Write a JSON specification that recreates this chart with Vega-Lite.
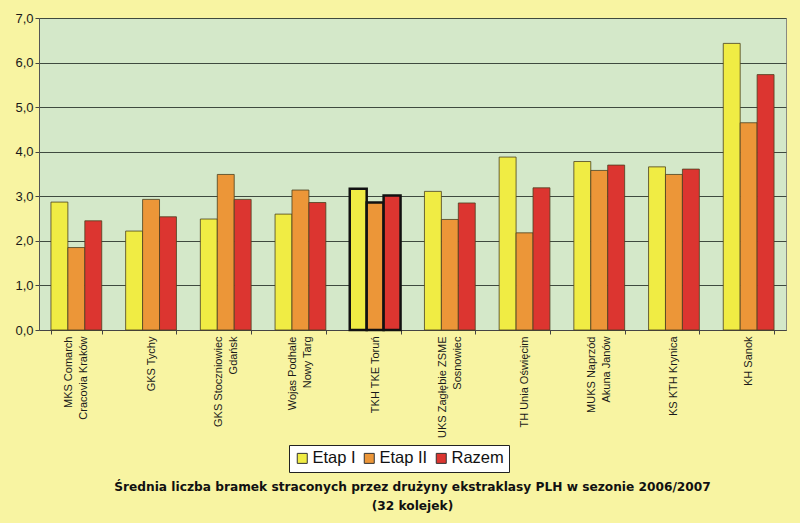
{
  "$schema": "https://vega.github.io/schema/vega-lite/v6.json",
  "width": 747,
  "height": 312,
  "autosize": {"type": "none"},
  "padding": {"left": 39, "top": 18, "right": 14, "bottom": 193},
  "background": "#f8f4a2",
  "data": {
    "values": [
      {"team": "MKS Comarch\nCracovia Kraków", "etap": "Etap I", "value": 2.87},
      {"team": "MKS Comarch\nCracovia Kraków", "etap": "Etap II", "value": 1.85},
      {"team": "MKS Comarch\nCracovia Kraków", "etap": "Razem", "value": 2.45},
      {"team": "GKS Tychy", "etap": "Etap I", "value": 2.22},
      {"team": "GKS Tychy", "etap": "Etap II", "value": 2.93},
      {"team": "GKS Tychy", "etap": "Razem", "value": 2.54},
      {"team": "GKS Stoczniowiec\nGdańsk", "etap": "Etap I", "value": 2.49},
      {"team": "GKS Stoczniowiec\nGdańsk", "etap": "Etap II", "value": 3.49},
      {"team": "GKS Stoczniowiec\nGdańsk", "etap": "Razem", "value": 2.93},
      {"team": "Wojas Podhale\nNowy Targ", "etap": "Etap I", "value": 2.60},
      {"team": "Wojas Podhale\nNowy Targ", "etap": "Etap II", "value": 3.14},
      {"team": "Wojas Podhale\nNowy Targ", "etap": "Razem", "value": 2.86},
      {"team": "TKH TKE Toruń", "etap": "Etap I", "value": 3.17},
      {"team": "TKH TKE Toruń", "etap": "Etap II", "value": 2.86},
      {"team": "TKH TKE Toruń", "etap": "Razem", "value": 3.02},
      {"team": "UKS Zagłębie ZSME\nSosnowiec", "etap": "Etap I", "value": 3.11},
      {"team": "UKS Zagłębie ZSME\nSosnowiec", "etap": "Etap II", "value": 2.48},
      {"team": "UKS Zagłębie ZSME\nSosnowiec", "etap": "Razem", "value": 2.85},
      {"team": "TH Unia Oświęcim", "etap": "Etap I", "value": 3.88},
      {"team": "TH Unia Oświęcim", "etap": "Etap II", "value": 2.18},
      {"team": "TH Unia Oświęcim", "etap": "Razem", "value": 3.19},
      {"team": "MUKS Naprzód\nAkuna Janów", "etap": "Etap I", "value": 3.78},
      {"team": "MUKS Naprzód\nAkuna Janów", "etap": "Etap II", "value": 3.58},
      {"team": "MUKS Naprzód\nAkuna Janów", "etap": "Razem", "value": 3.70},
      {"team": "KS KTH Krynica", "etap": "Etap I", "value": 3.66},
      {"team": "KS KTH Krynica", "etap": "Etap II", "value": 3.49},
      {"team": "KS KTH Krynica", "etap": "Razem", "value": 3.61},
      {"team": "KH Sanok", "etap": "Etap I", "value": 6.43},
      {"team": "KH Sanok", "etap": "Etap II", "value": 4.65},
      {"team": "KH Sanok", "etap": "Razem", "value": 5.73}
    ]
  },
  "mark": {"type": "bar"},
  "encoding": {
    "x": {
      "field": "team",
      "type": "nominal",
      "sort": null,
      "scale": {"paddingInner": 0.32, "paddingOuter": 0.16},
      "axis": {
        "title": null,
        "labelAngle": -90,
        "labelExpr": "split(datum.label, '\\n')",
        "labelFont": "Liberation Sans",
        "labelFontSize": 11,
        "labelColor": "#1a1a1a",
        "labelLineHeight": 15,
        "labelPadding": 2,
        "labelLimit": 300,
        "labelOffset": {"condition": {"test": "indexof(datum.label, '\\n') >= 0", "value": -7.5}, "value": 0},
        "tickBand": "extent",
        "tickSize": 4,
        "tickColor": "#444444",
        "domainColor": "#444444",
        "grid": false
      }
    },
    "xOffset": {"field": "etap", "type": "nominal", "scale": {"padding": 0}},
    "y": {
      "field": "value",
      "type": "quantitative",
      "scale": {"domain": [0, 7], "nice": false},
      "axis": {
        "title": null,
        "values": [0, 1, 2, 3, 4, 5, 6, 7],
        "labelExpr": "replace(format(datum.value, '.1f'), '.', ',')",
        "labelFont": "Liberation Sans",
        "labelFontSize": 13,
        "labelColor": "#1a1a1a",
        "labelPadding": 2,
        "tickSize": 4,
        "tickColor": "#444444",
        "domainColor": "#555555",
        "gridColor": "#3f4a3f",
        "gridWidth": 1
      }
    },
    "color": {
      "field": "etap",
      "type": "nominal",
      "scale": {"domain": ["Etap I", "Etap II", "Razem"], "range": ["#f0ec44", "#ec9638", "#dc3530"]},
      "legend": {
        "title": null,
        "orient": "none",
        "legendX": 250,
        "legendY": 427,
        "direction": "horizontal",
        "fillColor": "#ffffff",
        "strokeColor": "#222222",
        "padding": 5,
        "symbolType": "square",
        "symbolSize": 100,
        "symbolStrokeColor": "#333333",
        "symbolStrokeWidth": 1,
        "labelFont": "Liberation Sans",
        "labelFontSize": 16.5,
        "labelColor": "#111111",
        "labelOffset": 2,
        "columnPadding": 5
      }
    },
    "stroke": {
      "condition": {"test": "indexof(datum.team, 'Toruń') >= 0", "value": "#111111"},
      "value": "#4a4020"
    },
    "strokeWidth": {
      "condition": {"test": "indexof(datum.team, 'Toruń') >= 0", "value": 2.5},
      "value": 0.8
    }
  },
  "title": {
    "text": ["Średnia liczba bramek straconych przez drużyny ekstraklasy PLH w sezonie 2006/2007", "(32 kolejek)"],
    "orient": "bottom",
    "anchor": "middle",
    "frame": "group",
    "font": "DejaVu Sans",
    "fontSize": 12.2,
    "fontWeight": "bold",
    "color": "#111111",
    "lineHeight": 19,
    "offset": 8
  },
  "config": {
    "view": {"fill": "#d4e8c9", "stroke": "#8a8a80"}
  }
}
